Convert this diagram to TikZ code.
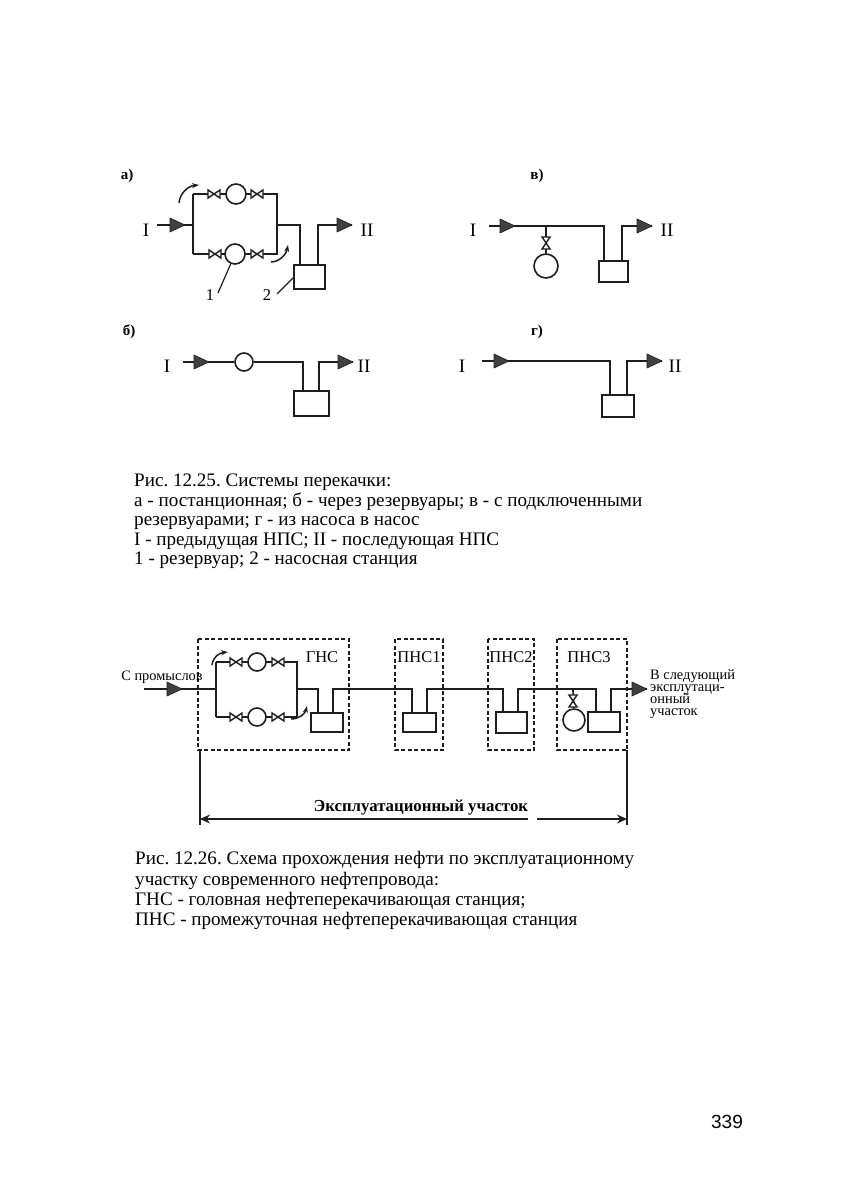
\documentclass[tikz,border=0pt]{standalone}
\usepackage{fontspec}
\setmainfont{Liberation Serif}
\newfontfamily\numfont{Liberation Sans}
\usetikzlibrary{arrows.meta}
\definecolor{ink}{HTML}{1E1E1E}
\tikzset{
  pipe/.style={draw=ink,line width=1.7pt,line join=miter},
  thin pipe/.style={draw=ink,line width=1.2pt},
  pump/.style={circle,draw=ink,fill=white,line width=1.6pt,inner sep=0pt,minimum size=#1},
  tank/.style={rectangle,draw=ink,fill=white,line width=1.7pt,inner sep=0pt},
  station/.style={draw=ink,line width=1.3pt,dash pattern=on 4pt off 2.5pt},
  curved/.style={draw=ink,line width=1.5pt,-{Stealth[length=7pt,width=5pt]}},
  dimline/.style={draw=ink,line width=1.2pt},
  dimtip/.style={draw=ink,line width=1.2pt,-{Stealth[length=10pt,width=9pt]}},
  captext/.style={inner sep=0pt,anchor=base west,font=\fontsize{19.1}{22}\selectfont\frenchspacing},
  roman/.style={inner sep=0pt,font=\fontsize{19}{22}\selectfont},
  panel/.style={inner sep=0pt,font=\bfseries\fontsize{15}{18}\selectfont},
  smalltext/.style={inner sep=0pt,font=\fontsize{14.4}{15}\selectfont},
  lab/.style={inner sep=0pt,font=\fontsize{16.5}{19}\selectfont},
  stationlab/.style={inner sep=0pt,anchor=base,font=\fontsize{16.5}{19}\selectfont},
  flow/.pic={\fill[ink!85!white,draw=ink,line width=.6pt] (-15,-7) -- (0,0) -- (-15,7) -- cycle;},
  valvepic/.pic={\draw[ink,fill=white,line width=1.4pt] (-6,-4) -- (6,4) -- (6,-4) -- (-6,4) -- cycle;}
}
\begin{document}
\begin{tikzpicture}[x=1pt,y=-1pt]
\useasboundingbox (0,0) rectangle (858,1198);
\fill[white] (0,0) rectangle (858,1198);

% ---------- a)
\node[panel] (la) at (127,176) {а)};
\node[roman] (a1) at (146,230) {I};
\node[roman] (a2) at (367,230) {II};
\coordinate (ain) at (157,225);
\coordinate (aj) at (193,225);
\coordinate (ajt) at (193,194);
\coordinate (ajb) at (193,254);
\coordinate (ak) at (277,225);
\coordinate (akt) at (277,194);
\coordinate (akb) at (277,254);
\node[tank,minimum width=31pt,minimum height=24pt] (at) at (309.5,277) {};
\coordinate (al) at (300,225);
\coordinate (am) at (318,225);
\coordinate (aout) at (352,225);
\draw[pipe] (ain) -- (aj);
\draw[pipe] (ajt) -- (ajb);
\draw[pipe] (ajt) -- (akt) -- (akb) -- (ajb);
\draw[pipe] (ak) -- (al) -- (al |- at.north);
\draw[pipe] (am |- at.north) -- (am) -- (aout);
\node[pump=20pt] (ap1) at (236,194) {};
\node[pump=20pt] (ap2) at (235,254) {};
\pic at (214,194) {valvepic};
\pic at (257,194) {valvepic};
\pic at (215,254) {valvepic};
\pic at (257,254) {valvepic};
\pic at (185,225) {flow};
\pic at (352,225) {flow};
\draw[curved] (179,203) .. controls (180,193) and (188,186) .. (199,185);
\draw[curved] (271,262) .. controls (279,262) and (286,255) .. (288,245);
\node[lab] (n1) at (210,295) {1};
\node[lab] (n2) at (267,295) {2};
\draw[thin pipe] (218,293) -- (ap2);
\draw[thin pipe] (277,294) -- (293,278);

% ---------- б)
\node[panel] (lb) at (129,332) {б)};
\node[roman] (b1) at (167,366) {I};
\node[roman] (b2) at (364,366) {II};
\coordinate (bin) at (183,362);
\node[pump=18pt] (bp) at (244,362) {};
\node[tank,minimum width=35pt,minimum height=25pt] (bt) at (311.5,403.5) {};
\coordinate (bl) at (303,362);
\coordinate (bm) at (319,362);
\coordinate (bout) at (353,362);
\draw[pipe] (bin) -- (bp);
\draw[pipe] (bp) -- (bl) -- (bl |- bt.north);
\draw[pipe] (bm |- bt.north) -- (bm) -- (bout);
\pic at (209,362) {flow};
\pic at (353,362) {flow};

% ---------- в)
\node[panel] (lv) at (537,176) {в)};
\node[roman] (v1) at (473,230) {I};
\node[roman] (v2) at (667,230) {II};
\coordinate (vin) at (489,226);
\coordinate (vj) at (546,226);
\node[pump=24pt] (vp) at (546,266) {};
\node[tank,minimum width=29pt,minimum height=21pt] (vt) at (613.5,271.5) {};
\coordinate (vl) at (604,226);
\coordinate (vm) at (622,226);
\coordinate (vout) at (652,226);
\draw[pipe] (vin) -- (vl) -- (vl |- vt.north);
\draw[pipe] (vm |- vt.north) -- (vm) -- (vout);
\draw[pipe] (vj) -- (vp);
\pic[rotate=90] at (546,243) {valvepic};
\pic at (515,226) {flow};
\pic at (652,226) {flow};

% ---------- г)
\node[panel] (lg) at (537,332) {г)};
\node[roman] (g1) at (462,366) {I};
\node[roman] (g2) at (675,366) {II};
\coordinate (gin) at (482,361);
\node[tank,minimum width=32pt,minimum height=22pt] (gt) at (618,406) {};
\coordinate (gl) at (610,361);
\coordinate (gm) at (627,361);
\coordinate (gout) at (662,361);
\draw[pipe] (gin) -- (gl) -- (gl |- gt.north);
\draw[pipe] (gm |- gt.north) -- (gm) -- (gout);
\pic at (509,361) {flow};
\pic at (662,361) {flow};

% ---------- caption 12.25
\node[captext] (c1) at (134,486) {Рис. 12.25. Системы перекачки:};
\node[captext] (c2) at (134,506) {а - постанционная; б - через резервуары; в - с подключенными};
\node[captext] (c3) at (134,525) {резервуарами; г - из насоса в насос};
\node[captext] (c4) at (134,545) {I - предыдущая НПС; II - последующая НПС};
\node[captext] (c5) at (134,564) {1 - резервуар; 2 - насосная станция};

% ---------- lower scheme: stations
\draw[station] (198,639) rectangle (349,750);
\draw[station] (395,639) rectangle (443,750);
\draw[station] (488,639) rectangle (534,750);
\draw[station] (557,639) rectangle (627,750);
\node[stationlab] (s0) at (322,662) {ГНС};
\node[stationlab] (s1) at (419,662) {ПНС1};
\node[stationlab] (s2) at (511,662) {ПНС2};
\node[stationlab] (s3) at (589,662) {ПНС3};

\node[smalltext,anchor=base] (src) at (162,680) {С промыслов};
\coordinate (hin) at (144,689);
\coordinate (hj) at (216,689);
\coordinate (hjt) at (216,662);
\coordinate (hjb) at (216,717);
\coordinate (hk) at (297,689);
\coordinate (hkt) at (297,662);
\coordinate (hkb) at (297,717);
\node[tank,minimum width=32pt,minimum height=19pt] (t0) at (327,722.5) {};
\node[tank,minimum width=33pt,minimum height=19pt] (t1) at (419.5,722.5) {};
\node[tank,minimum width=31pt,minimum height=21pt] (t2) at (511.5,722.5) {};
\node[tank,minimum width=32pt,minimum height=20pt] (t3) at (604,722) {};
\coordinate (l0) at (318,689);
\coordinate (m0) at (333,689);
\coordinate (l1) at (412,689);
\coordinate (m1) at (427,689);
\coordinate (l2) at (503,689);
\coordinate (m2) at (518,689);
\coordinate (l3) at (596,689);
\coordinate (m3) at (611,689);
\coordinate (hj3) at (573,689);
\coordinate (hout) at (647,689);
\draw[pipe] (hin) -- (hj);
\draw[pipe] (hjt) -- (hjb);
\draw[pipe] (hjt) -- (hkt) -- (hkb) -- (hjb);
\draw[pipe] (hk) -- (l0) -- (l0 |- t0.north);
\draw[pipe] (m0 |- t0.north) -- (m0) -- (l1) -- (l1 |- t1.north);
\draw[pipe] (m1 |- t1.north) -- (m1) -- (l2) -- (l2 |- t2.north);
\draw[pipe] (m2 |- t2.north) -- (m2) -- (l3) -- (l3 |- t3.north);
\draw[pipe] (m3 |- t3.north) -- (m3) -- (hout);
\node[pump=18pt] (h1) at (257,662) {};
\node[pump=18pt] (h2) at (257,717) {};
\node[pump=22pt] (h3) at (574,720) {};
\draw[pipe] (hj3) -- (h3);
\pic at (236,662) {valvepic};
\pic at (278,662) {valvepic};
\pic at (236,717) {valvepic};
\pic at (278,717) {valvepic};
\pic[rotate=90] at (573,701) {valvepic};
\pic at (182,689) {flow};
\pic at (647,689) {flow};
\draw[curved] (212,665) .. controls (213,657) and (219,653) .. (228,652);
\draw[curved] (291,719) .. controls (299,719) and (305,714) .. (307,706);

\node[smalltext,anchor=base west] (d1) at (650,679) {В следующий};
\node[smalltext,anchor=base west] (d2) at (650,691.5) {эксплутаци-};
\node[smalltext,anchor=base west] (d3) at (650,703.5) {онный};
\node[smalltext,anchor=base west] (d4) at (650,715) {участок};

% dimension
\coordinate (dl1) at (200,750);
\coordinate (dl2) at (200,825);
\coordinate (dr1) at (627,750);
\coordinate (dr2) at (627,825);
\coordinate (da) at (200,819);
\coordinate (db) at (528,819);
\coordinate (dc) at (537,819);
\coordinate (dd) at (627,819);
\draw[dimline] (dl1) -- (dl2);
\draw[dimline] (dr1) -- (dr2);
\draw[dimtip] (db) -- (da);
\draw[dimtip] (dc) -- (dd);
\node[inner sep=0pt,anchor=base,font=\bfseries\fontsize{16.8}{19}\selectfont] (dt) at (421,811) {Эксплуатационный участок};

% ---------- caption 12.26
\node[captext] (e1) at (135,864.5) {Рис. 12.26. Схема прохождения нефти по эксплуатационному};
\node[captext] (e2) at (135,885) {участку современного нефтепровода:};
\node[captext] (e3) at (135,905) {ГНС - головная нефтеперекачивающая станция;};
\node[captext] (e4) at (135,925) {ПНС - промежуточная нефтеперекачивающая станция};

\node[inner sep=0pt,font=\numfont\fontsize{19}{22}\selectfont] (pg) at (727,1122) {339};
\end{tikzpicture}
\end{document}
